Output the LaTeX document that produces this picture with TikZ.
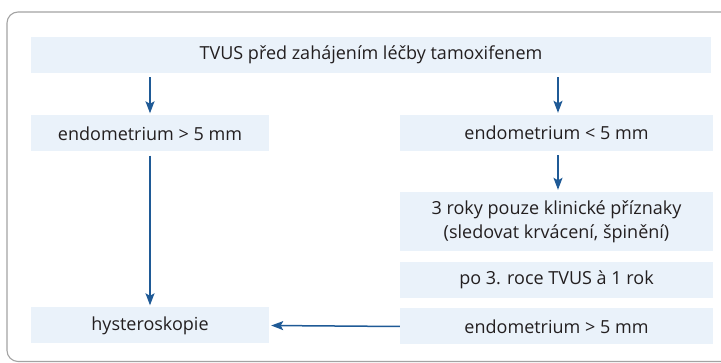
\documentclass[tikz,border=0pt]{standalone}
\usepackage{fontspec}
\setmainfont{Open Sans}
\usepackage{tikz}
\usetikzlibrary{positioning,arrows.meta}

\definecolor{boxfill}{HTML}{EAF2FA}
\definecolor{arrowblue}{HTML}{1F5A96}
\definecolor{framegray}{HTML}{A3A3A3}
\definecolor{txt}{HTML}{231F20}

\tikzset{
  stepbox/.style={fill=boxfill,inner sep=0pt,align=center,text=txt,minimum height=36pt},
  flow/.style={draw=arrowblue,line width=1.5pt,-{Stealth[length=12pt,width=9pt,inset=2.5pt]},shorten >=2pt,shorten <=4pt}
}

\begin{document}
\begin{tikzpicture}[x=1pt, y=-1pt, font=\fontsize{18}{24}\selectfont]
\useasboundingbox (0,0) rectangle (721,363);
\clip (0,0) rectangle (721,363);
\draw [framegray, line width=1.1pt, rounded corners=11pt] (7,12) rectangle (760,361.5);

\coordinate(top) at (371,55);
\coordinate(l1) at (150,133.5);
\coordinate(r1) at (556.5,133);
\coordinate(r2) at (556.5,221.5);
\coordinate(r3) at (556.5,280);
\coordinate(r4) at (556.5,326.5);
\coordinate(l2) at (150,325.5);

\node [stepbox, minimum width=680pt] (tvus) at (top) {TVUS před zahájením léčby tamoxifenem};
\node [stepbox, minimum width=238pt] (gtl) at (l1) {endometrium > 5 mm};
\node [stepbox, minimum width=313pt] (ltr) at (r1) {endometrium < 5 mm};
\node [stepbox, minimum width=313pt, minimum height=59pt] (klin) at (r2) {3 roky pouze klinické příznaky\\(sledovat krvácení, špinění)};
\node [stepbox, minimum width=313pt] (po3) at (r3) {po 3. roce TVUS à 1 rok};
\node [stepbox, minimum width=313pt] (gtr) at (r4) {endometrium > 5 mm};
\node [stepbox, minimum width=238pt] (hyst) at (l2) {hysteroskopie};

\draw [flow] (tvus.south -| gtl) -- (gtl.north);
\draw [flow] (tvus.south -| 558,0) -- (ltr.north -| 558,0);
\draw [flow] (gtl.south) -- (hyst.north);
\draw [flow] (ltr.south -| 558,0) -- (klin.north -| 558,0);
\draw [flow, shorten <=0pt] (gtr.west) -- (hyst.east);
\end{tikzpicture}
\end{document}
